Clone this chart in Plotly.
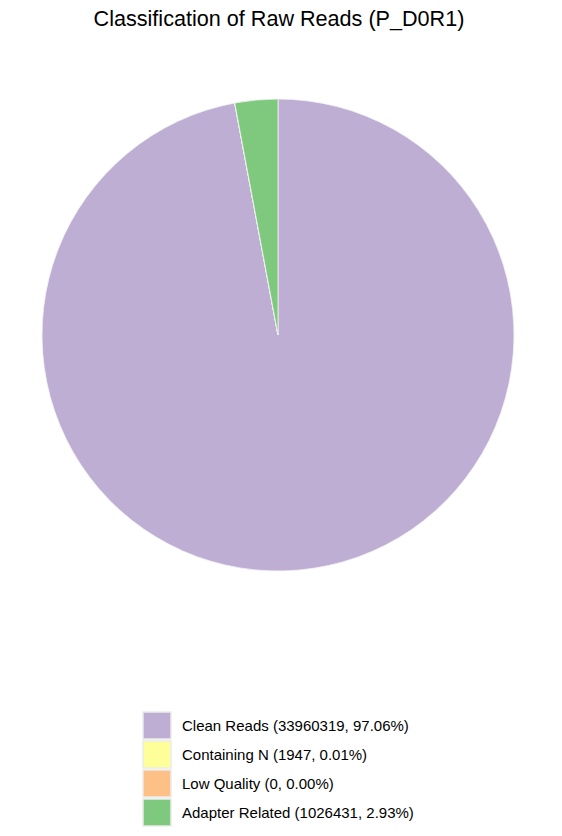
import plotly.graph_objects as go

categories = ["Clean Reads", "Containing N", "Low Quality", "Adapter Related"]
counts = [33960319, 1947, 0, 1026431]
colors = ["#beaed4", "#ffff99", "#fdc086", "#7fc97f"]
title_text = "Classification of Raw Reads (P_D0R1)"

W, H = 562, 836
total = sum(counts)
legend_labels = [f"{c} ({n}, {n / total * 100:.2f}%)" for c, n in zip(categories, counts)]


def px(x):
    return x / W


def py(y):
    return 1 - y / H


cx, cy, r = 278, 335, 236

fig = go.Figure(go.Pie(
    labels=categories,
    values=counts,
    sort=False,
    direction="clockwise",
    rotation=0,
    marker=dict(colors=colors, line=dict(color="#f2f2f2", width=0.8)),
    textinfo="none",
    hoverinfo="label+value+percent",
    showlegend=False,
    domain=dict(x=[px(cx - r), px(cx + r)], y=[py(cy + r), py(cy - r)]),
))

shapes = []
annotations = []
box_x0, box_x1 = 143, 171
top0, pitch, bh = 712, 29, 27
for i, (lab, col) in enumerate(zip(legend_labels, colors)):
    y0 = top0 + i * pitch
    shapes.append(dict(type="rect", xref="paper", yref="paper",
                       x0=px(box_x0), x1=px(box_x1),
                       y0=py(y0 + bh), y1=py(y0),
                       fillcolor=col, line=dict(color="#ebebeb", width=1.5)))
    annotations.append(dict(xref="paper", yref="paper", x=px(180), y=py(y0 + bh / 2),
                            xanchor="left", yanchor="middle", showarrow=False, text=lab,
                            font=dict(family="Liberation Sans, Arial, sans-serif", size=15, color="#000")))

fig.update_layout(
    width=W, height=H,
    margin=dict(l=0, r=0, t=0, b=0),
    paper_bgcolor="white",
    plot_bgcolor="white",
    title=dict(text=title_text, x=px(279), xanchor="center", y=py(18), yanchor="middle",
               font=dict(family="Liberation Sans, Arial, sans-serif", size=21.6, color="#000")),
    shapes=shapes,
    annotations=annotations,
)

fig.write_html("out.html", config={"displayModeBar": False},
               post_script="document.body.style.margin='0';document.body.style.overflow='hidden';")
